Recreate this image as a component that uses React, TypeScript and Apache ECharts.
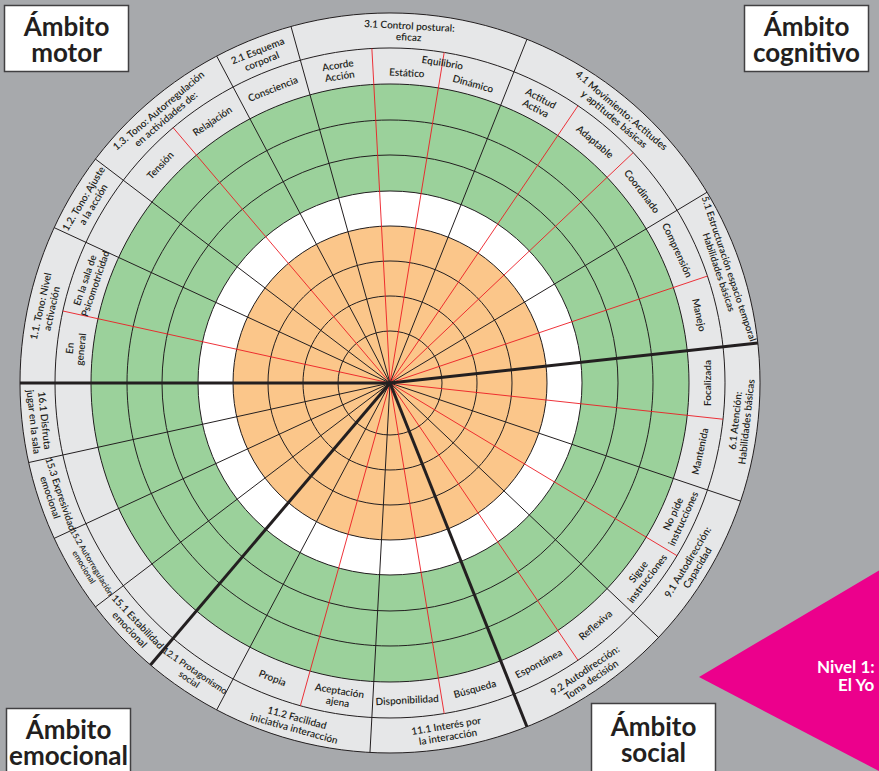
import React, { useEffect, useRef } from 'react';
import * as echarts from 'echarts';

// ---------------- data ----------------
const DOMAINS = ['Ámbito\nmotor', 'Ámbito\ncognitivo', 'Ámbito\nsocial', 'Ámbito\nemocional'];
// number of categories in each domain, clockwise from 9 o'clock
const DOMAIN_SIZES = [7, 3, 3, 4];

const CATEGORIES = [
  '1.1. Tono: Nivel\nactivación',
  '1.2. Tono: Ajuste\na la acción',
  '1.3. Tono: Autorregulación\nen actividades de:',
  '2.1 Esquema\ncorporal',
  '3.1 Control postural:\neficaz',
  '4.1 Movimiento: Actitudes\ny aptitudes básicas',
  '5.1 Estructuración espacio temporal\nHabilidades básicas',
  '6.1 Atención:\nHabilidades básicas',
  '9.1 Autodirección:\nCapacidad',
  '9.2 Autodirección:\nToma decisión',
  '11.1 Interés por\nla interacción',
  '11.2 Facilidad\niniciativa interacción',
  '12.1 Protagonismo\nsocial',
  '15.1 Estabilidad\nemocional',
  '15.2 Autorregulación\nemocional',
  '15.3 Expresividad\nemocional',
  '16.1 Disfruta\njugar en la sala',
];

const SUB_ITEMS: string[][] = [
  ['En\ngeneral', 'En la sala de\nPsicomotricidad'],
  [''],
  ['Tensión', 'Relajación'],
  ['Consciencia'],
  ['Acorde\nAcción', 'Estático', 'Dinámico'],
  ['Actitud\nActiva', 'Adaptable', 'Coordinado'],
  ['Comprensión', 'Manejo'],
  ['Focalizada', 'Mantenida'],
  ['No pide\ninstrucciones', 'Sigue\ninstrucciones'],
  ['Reflexiva', 'Espontánea'],
  ['Búsqueda', 'Disponibilidad'],
  ['Aceptación\najena', 'Propia'],
  [''],
  [''],
  [''],
  [''],
  [''],
];

// a heading shared by several sub-items of one category
const SUB_GROUPS = [{ category: 4, first: 1, last: 2, text: 'Equilibrio' }];

const LEVEL_TITLE = ['Nivel 1:', 'El Yo'];

// ---------------- layout / style ----------------
const W = 879;
const H = 771;
const CX = 390;
const CY = 383;
const R_OUT = 370;
const R_SUB_OUT = 335;
const R_GREEN_OUT = 299;
const R_WHITE_OUT = 192;
const R_ORANGE_OUT = 157;
const RING_EDGES = [52, 87, 122, 157, 192, 228, 263, 299, 335, 370];

const BG = '#a7a9ac';
const ORANGE = '#fbc68a';
const GREEN = '#9bd19b';
const LABEL_GREY = '#e6e7e8';
const INK = '#231f20';
const RED = '#ec1c24';
const MAGENTA = '#ec008c';
const FONT = 'Lato, "Open Sans", sans-serif';

const BANDS = [
  { r0: R_GREEN_OUT, r: R_OUT, fill: LABEL_GREY },
  { r0: R_WHITE_OUT, r: R_GREEN_OUT, fill: GREEN },
  { r0: R_ORANGE_OUT, r: R_WHITE_OUT, fill: '#ffffff' },
  { r0: 0, r: R_ORANGE_OUT, fill: ORANGE },
];

const BOXES = [
  { x: 4.5, y: 5.5, w: 124, h: 66, cy: 39 },
  { x: 744.5, y: 5.5, w: 124, h: 66, cy: 39 },
  { x: 591.5, y: 703.5, w: 124, h: 70, cy: 738.5 },
  { x: 6.5, y: 708.5, w: 124, h: 70, cy: 741.5 },
];

// ---------------- derived ----------------
const catStart: number[] = [];
let acc = 0;
SUB_ITEMS.forEach((s) => {
  catStart.push(acc);
  acc += s.length;
});
const TOTAL = acc;

const domainStart = new Set<number>();
{
  let d = 0;
  DOMAIN_SIZES.forEach((n) => {
    domainStart.add(d);
    d += n;
  });
}

const spokeData: number[][] = [];
SUB_ITEMS.forEach((subs, c) =>
  subs.forEach((_, i) => {
    const u = catStart[c] + i;
    if (i === 0) spokeData.push([R_OUT, u, domainStart.has(c) ? 2 : 1]);
    else spokeData.push([R_SUB_OUT, u, 0]);
  })
);
spokeData.sort((a, b) => a[2] - b[2]);

const R_CAT_MID = (R_SUB_OUT + R_OUT) / 2;
const R_SUB_MID = (R_GREEN_OUT + R_SUB_OUT) / 2;

const catLabelData = CATEGORIES.map((_, c) => [R_CAT_MID, catStart[c] + SUB_ITEMS[c].length / 2]);

const subTexts: string[] = [];
const subUnits: number[] = [];
const subLabelData: number[][] = [];
SUB_ITEMS.forEach((subs, c) =>
  subs.forEach((t, i) => {
    if (!t) return;
    const grouped = SUB_GROUPS.some((g) => g.category === c && i >= g.first && i <= g.last);
    subTexts.push(t);
    subUnits.push(1);
    subLabelData.push([grouped ? R_SUB_MID - 6 : R_SUB_MID, catStart[c] + i + 0.5]);
  })
);
SUB_GROUPS.forEach((g) => {
  subTexts.push(g.text);
  subUnits.push(g.last - g.first + 1);
  subLabelData.push([R_SUB_MID + 8, catStart[g.category] + (g.first + g.last + 1) / 2]);
});

const LABEL_WEIGHT = 600;

let measureCtx: CanvasRenderingContext2D | null = null;
function textWidth(text: string, size: number) {
  if (!measureCtx) measureCtx = document.createElement('canvas').getContext('2d');
  if (!measureCtx) return text.length * size * 0.5;
  measureCtx.font = `${LABEL_WEIGHT} ${size}px Lato`;
  return Math.max(...text.split('\n').map((l) => measureCtx!.measureText(l).width));
}
function fitSize(text: string, base: number, units: number, r: number) {
  const avail = units * ((2 * Math.PI) / TOTAL) * r * 1.0;
  const w = textWidth(text, base);
  return w > avail ? Math.max(7.5, (base * avail) / w) : base;
}

function tangentialText(api: any, r: number, a: number, text: string, size: number) {
  const c = api.coord([0, 0]);
  const p = api.coord([r, a]);
  const th = Math.atan2(-(p[1] - c[1]), p[0] - c[0]);
  const rot = th > 1e-3 ? th - Math.PI / 2 : th + Math.PI / 2;
  return {
    type: 'text',
    x: p[0],
    y: p[1],
    rotation: rot,
    style: {
      text,
      x: 0,
      y: 0,
      align: 'center',
      verticalAlign: 'middle',
      fontSize: size,
      fontWeight: LABEL_WEIGHT,
      lineHeight: size * 1.12,
      fontFamily: FONT,
      fill: INK,
    },
  };
}

function radiusPx(api: any, r: number) {
  const c = api.coord([0, 0]);
  const p = api.coord([r, 0]);
  return Math.hypot(p[0] - c[0], p[1] - c[1]);
}

function buildOption() {
  const graphics: any[] = [];
  BOXES.forEach((b, i) => {
    graphics.push({
      type: 'rect',
      shape: { x: b.x, y: b.y, width: b.w, height: b.h },
      style: { fill: '#ffffff', stroke: '#414042', lineWidth: 1.5 },
    });
    graphics.push({
      type: 'text',
      x: b.x + b.w / 2,
      y: b.cy,
      style: {
        text: DOMAINS[i],
        align: 'center',
        verticalAlign: 'middle',
        fontSize: 26,
        lineHeight: 26,
        fontWeight: 'bold',
        fontFamily: FONT,
        fill: INK,
      },
    });
  });
  graphics.push({
    type: 'polygon',
    shape: { points: [[699, 677], [900, 558], [900, 782]] },
    style: { fill: MAGENTA },
  });
  graphics.push({
    type: 'text',
    x: 817,
    y: 666,
    style: { text: LEVEL_TITLE[0], verticalAlign: 'middle', fontSize: 17, fontWeight: 'bold', fontFamily: FONT, fill: '#ffffff' },
  });
  graphics.push({
    type: 'text',
    x: 838,
    y: 684,
    style: { text: LEVEL_TITLE[1], verticalAlign: 'middle', fontSize: 17, fontWeight: 'bold', fontFamily: FONT, fill: '#ffffff' },
  });

  return {
    animation: false,
    backgroundColor: BG,
    polar: { center: [CX, CY], radius: R_OUT },
    angleAxis: { type: 'value', min: 0, max: TOTAL, startAngle: 180, clockwise: true, show: false },
    radiusAxis: { type: 'value', min: 0, max: R_OUT, show: false },
    graphic: graphics,
    series: [
      {
        type: 'custom',
        coordinateSystem: 'polar',
        silent: true,
        z: 1,
        data: BANDS.map((b) => [b.r, 0]),
        renderItem: (params: any, api: any) => {
          const b = BANDS[params.dataIndex];
          const c = api.coord([0, 0]);
          return {
            type: 'ring',
            shape: { cx: c[0], cy: c[1], r: radiusPx(api, b.r), r0: radiusPx(api, b.r0) },
            style: { fill: b.fill },
          };
        },
      },
      {
        type: 'custom',
        coordinateSystem: 'polar',
        silent: true,
        z: 2,
        data: RING_EDGES.map((r) => [r, 0]),
        renderItem: (params: any, api: any) => {
          const c = api.coord([0, 0]);
          return {
            type: 'circle',
            shape: { cx: c[0], cy: c[1], r: radiusPx(api, api.value(0)) },
            style: { fill: 'none', stroke: INK, lineWidth: 1 },
          };
        },
      },
      {
        type: 'custom',
        coordinateSystem: 'polar',
        silent: true,
        z: 3,
        data: spokeData,
        renderItem: (params: any, api: any) => {
          const a = api.value(1);
          const kind = api.value(2);
          const p0 = api.coord([0, a]);
          const p1 = api.coord([api.value(0), a]);
          return {
            type: 'line',
            shape: { x1: p0[0], y1: p0[1], x2: p1[0], y2: p1[1] },
            style: {
              stroke: kind === 0 ? RED : INK,
              lineWidth: kind === 2 ? 3 : kind === 1 ? 1 : 0.9,
            },
          };
        },
      },
      {
        type: 'custom',
        coordinateSystem: 'polar',
        silent: true,
        z: 4,
        data: catLabelData,
        renderItem: (params: any, api: any) => {
          const c = params.dataIndex;
          const t = CATEGORIES[c];
          const size = fitSize(t, 10, SUB_ITEMS[c].length, R_CAT_MID);
          return tangentialText(api, api.value(0), api.value(1), t, size);
        },
      },
      {
        type: 'custom',
        coordinateSystem: 'polar',
        silent: true,
        z: 4,
        data: subLabelData,
        renderItem: (params: any, api: any) => {
          const i = params.dataIndex;
          const t = subTexts[i];
          const size = fitSize(t, 10, subUnits[i], R_SUB_MID);
          return tangentialText(api, api.value(0), api.value(1), t, size);
        },
      },
    ],
  };
}

export default function App() {
  const ref = useRef<HTMLDivElement>(null);
  useEffect(() => {
    const el = ref.current;
    if (!el) return;
    const chart = echarts.init(el, undefined, { renderer: 'svg' });
    chart.setOption(buildOption() as any);
    return () => chart.dispose();
  }, []);
  return (
    <div
      ref={ref}
      style={{ position: 'absolute', left: 0, top: 0, width: W, height: H, background: BG }}
    />
  );
}
